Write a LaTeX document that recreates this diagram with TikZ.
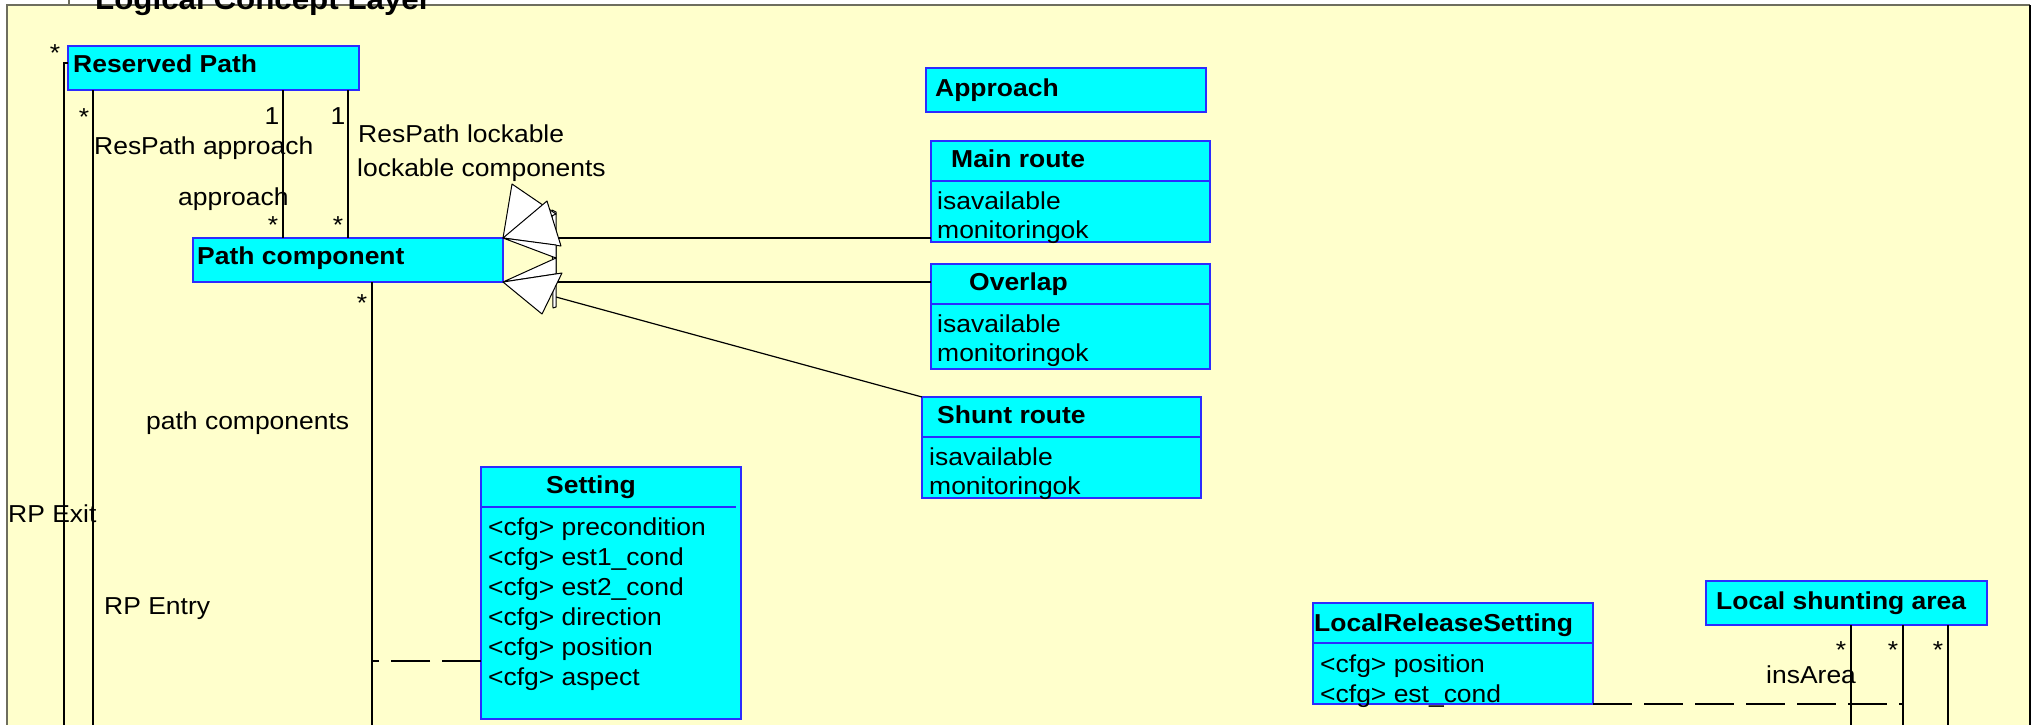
\documentclass[tikz,border=0pt]{standalone}
\usepackage{fontspec}
\setmainfont{Liberation Sans}[FakeStretch=1.08]
\definecolor{bgyellow}{HTML}{FFFFCC}
\definecolor{boxcyan}{HTML}{00FFFF}
\definecolor{boxblue}{HTML}{2B2BFF}
\definecolor{framegray}{HTML}{6E6E5E}
\tikzset{
  cls/.style={draw=boxblue, fill=boxcyan, line width=1.5pt, inner sep=0pt, outer sep=0pt, anchor=north west},
  ttl/.style={font=\fontsize{24.5}{30}\selectfont\bfseries, anchor=base west, inner sep=0pt},
  txt/.style={anchor=base west, inner sep=0pt, align=left},
  mult/.style={anchor=base, inner sep=0pt},
  conn/.style={draw=black, line width=1.2pt},
  dashconn/.style={conn, dash pattern=on 39pt off 12pt},
  divider/.style={draw=boxblue, line width=1.5pt},
  gen/.style={draw=black, fill=white, line width=1pt, line join=round},
}
\begin{document}
\begin{tikzpicture}[x=1pt, y=-1pt, font=\fontsize{24.5}{30}\selectfont]
\useasboundingbox (0,0) rectangle (2039,724);
\clip (0,0) rectangle (2039,724);
% package frame
\fill[white] (0,0) rectangle (2039,724);
\fill[bgyellow] (7,5) rectangle (2030,740);
\draw[framegray, line width=2pt] (7,740) -- (7,5) -- (2030,5);
\draw[black, line width=2pt] (2030,5) -- (2030,740);
\draw[framegray, line width=1.2pt] (69,0) -- (69,5);
\node[ttl, font=\fontsize{29}{34}\selectfont\bfseries] (layer) at (95,9) {Logical Concept Layer};

% class boxes
\node[cls, minimum width=291pt, minimum height=44pt] (rp) at (68,46) {};
\node[ttl] (rpT) at (73,72) {Reserved Path};

\node[cls, minimum width=310pt, minimum height=44pt] (pc) at (193,238) {};
\node[ttl] (pcT) at (197,264) {Path component};

\node[cls, minimum width=280pt, minimum height=44pt] (app) at (926,68) {};
\node[ttl] (appT) at (935,96) {Approach};

\node[cls, minimum width=279pt, minimum height=101pt] (main) at (931,141) {};
\draw[divider] (931,181) -- (1210,181);
\node[ttl] (mainT) at (951,167) {Main route};
\node[txt] (mainA1) at (937,209) {isavailable};
\node[txt] (mainA2) at (937,238) {monitoringok};

\node[cls, minimum width=279pt, minimum height=105pt] (ovl) at (931,264) {};
\draw[divider] (931,304) -- (1210,304);
\node[ttl] (ovlT) at (969,290) {Overlap};
\node[txt] (ovlA1) at (937,332) {isavailable};
\node[txt] (ovlA2) at (937,361) {monitoringok};

\node[cls, minimum width=279pt, minimum height=101pt] (shunt) at (922,397) {};
\draw[divider] (922,437) -- (1201,437);
\node[ttl] (shuntT) at (937,423) {Shunt route};
\node[txt] (shuntA1) at (929,465) {isavailable};
\node[txt] (shuntA2) at (929,494) {monitoringok};

\node[cls, minimum width=260pt, minimum height=252pt] (set) at (481,467) {};
\draw[divider] (481,507) -- (736,507);
\node[ttl] (setT) at (546,493) {Setting};
\node[txt] (setA1) at (488,535) {<cfg> precondition};
\node[txt] (setA2) at (488,565) {<cfg> est1\_cond};
\node[txt] (setA3) at (488,595) {<cfg> est2\_cond};
\node[txt] (setA4) at (488,625) {<cfg> direction};
\node[txt] (setA5) at (488,655) {<cfg> position};
\node[txt] (setA6) at (488,685) {<cfg> aspect};

\node[cls, minimum width=280pt, minimum height=101pt] (lrs) at (1313,603) {};
\draw[divider] (1313,643) -- (1593,643);
\node[ttl] (lrsT) at (1314,631) {LocalReleaseSetting};
\node[txt] (lrsA1) at (1320,672) {<cfg> position};
\node[txt] (lrsA2) at (1320,702) {<cfg> est\_cond};

\node[cls, minimum width=281pt, minimum height=44pt] (lsa) at (1706,581) {};
\node[ttl] (lsaT) at (1716,609) {Local shunting area};

% free ends of connectors leaving the picture
\coordinate (exitEnd) at (64,740);
\coordinate (entryEnd) at (93,740);
\coordinate (pcEnd) at (372,740);
\coordinate (lsaEnd1) at (1851,740);
\coordinate (lsaEnd2) at (1903,740);
\coordinate (lsaEnd3) at (1948,740);
\coordinate (genBack) at (556,297);

% associations
\draw[conn] ([yshift=-17pt]rp.north west) -| (exitEnd);
\draw[conn] (rp.south -| entryEnd) -- (entryEnd);
\draw[conn] ([xshift=215pt]rp.south west) -- ([xshift=90pt]pc.north west);
\draw[conn] ([xshift=280pt]rp.south west) -- ([xshift=155pt]pc.north west);
\draw[conn] (pc.south -| pcEnd) -- (pcEnd);
\draw[dashconn] ([yshift=-194pt]set.north west) -- ([yshift=-194pt]set.north west -| pcEnd);
\draw[conn] (lsa.south -| lsaEnd1) -- (lsaEnd1);
\draw[conn] (lsa.south -| lsaEnd2) -- (lsaEnd2);
\draw[conn] (lsa.south -| lsaEnd3) -- (lsaEnd3);
\draw[dashconn] (lrs.south east) -- (lrs.south east -| lsaEnd2);

% generalizations
\draw[conn] (main.west |- pc.north east) -- (pc.north east);
\draw[conn] (ovl.west |- pc.south east) -- (pc.south east);
\draw[conn] (shunt.north west) -- (genBack);
\draw[gen] (552,210) -- (556,212) -- (556,307) -- (553,308) -- cycle;
\draw[gen] (512,184) -- (pc.north east) -- (556,214) -- cycle;
\draw[gen] (547,201) -- (pc.north east) -- (561,246) -- cycle;
\draw[gen] (pc.north east) -- (556,245) -- (556,258) -- cycle;
\draw[gen] (pc.south east) -- (556,258) -- (556,274) -- cycle;
\draw[gen] (pc.south east) -- (562,273) -- (542,314) -- cycle;

% labels and multiplicities
\node[mult] (m1) at (55,61) {*};
\node[mult] (m2) at (84,125) {*};
\node[mult] (m3) at (272,124.5) {1};
\node[mult] (m4) at (338,124.5) {1};
\node[mult] (m5) at (273,233) {*};
\node[mult] (m6) at (338,233) {*};
\node[mult] (m7) at (362,311) {*};
\node[mult] (m8) at (1841,658) {*};
\node[mult] (m9) at (1893,658) {*};
\node[mult] (m10) at (1938,658) {*};
\node[txt] (l1) at (94,154) {ResPath approach};
\node[txt] (l2) at (178,205) {approach};
\node[txt] (l3) at (358,142) {ResPath lockable};
\node[txt] (l4) at (357,176) {lockable components};
\node[txt] (l5) at (146,429) {path components};
\node[txt] (l6) at (8,522) {RP Exit};
\node[txt] (l7) at (104,614) {RP Entry};
\node[txt] (l8) at (1766,683) {insArea};
\end{tikzpicture}
\end{document}
